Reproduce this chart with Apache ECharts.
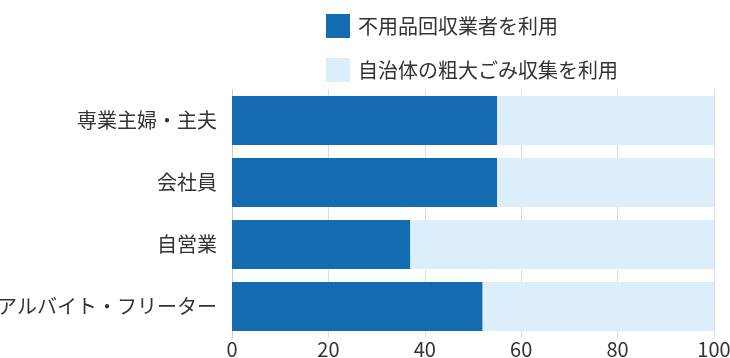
<!DOCTYPE html>
<html><head><meta charset="utf-8">
<script src="https://cdn.jsdelivr.net/npm/echarts@6/dist/echarts.min.js"></script>
<style>html,body{margin:0;padding:0;background:#fff}#c{width:730px;height:358px}</style>
</head><body><div id="c"></div>
<script>
const categories = ['専業主婦・主夫', '会社員', '自営業', 'アルバイト・フリーター'];
const seriesNames = ['不用品回収業者を利用', '自治体の粗大ごみ収集を利用'];
const vendorValues = [55, 55, 37, 52];
const municipalValues = [45, 45, 63, 48];
const xTicks = [0, 20, 40, 60, 80, 100];

const font = '"Noto Sans CJK JP", "Noto Sans", sans-serif';
const chart = echarts.init(document.getElementById('c'));
chart.setOption({
  animation: false,
  textStyle: { fontFamily: font },
  legend: {
    orient: 'vertical', left: 326, top: 14, padding: 0,
    itemWidth: 24, itemHeight: 24, itemGap: 20,
    icon: 'rect',
    textStyle: { fontSize: 20, color: '#333', fontFamily: font, padding: [0, 0, 0, 3] },
    data: seriesNames
  },
  grid: { left: 232, right: 16, top: 89.5, bottom: 20.5, containLabel: false, outerBoundsMode: 'none' },
  xAxis: {
    type: 'value', min: xTicks[0], max: xTicks[xTicks.length - 1], interval: 20,
    axisLine: { show: false }, axisTick: { show: false },
    axisLabel: { fontSize: 20, color: '#333', margin: 2, fontFamily: font },
    splitLine: { show: true, lineStyle: { color: '#dddddd', width: 1 } }
  },
  yAxis: {
    type: 'category', data: categories, inverse: true,
    axisLine: { show: true, lineStyle: { color: '#cccccc' } },
    axisTick: { show: false },
    axisLabel: { fontSize: 20, color: '#333', margin: 15, fontFamily: font }
  },
  series: [
    { name: seriesNames[0], type: 'bar', stack: 'a', barWidth: 49, data: vendorValues,
      itemStyle: { color: '#136cb0' } },
    { name: seriesNames[1], type: 'bar', stack: 'a', barWidth: 49, data: municipalValues,
      itemStyle: { color: '#dbeef9' } }
  ]
});
</script></body></html>
